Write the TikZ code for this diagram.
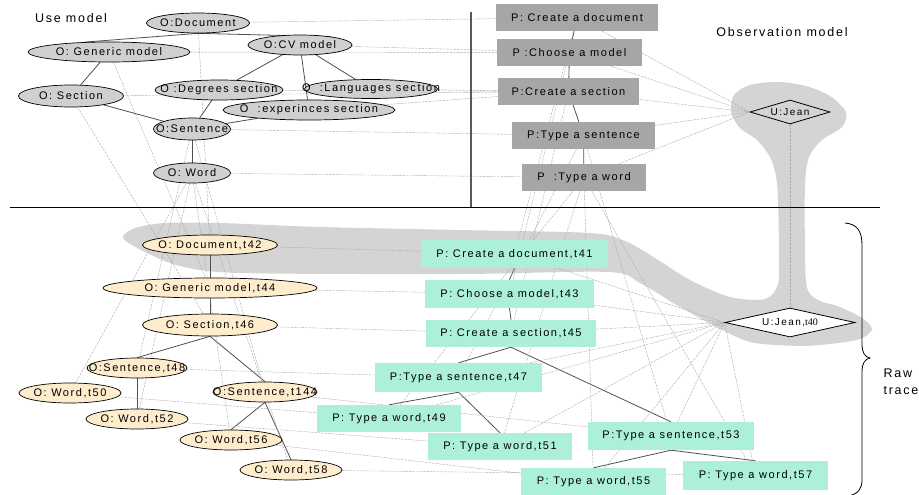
\documentclass[tikz,border=0pt]{standalone}
\usepackage{fontspec}
\setmainfont{Liberation Sans}
\newfontfamily\lblfont[LetterSpace=14]{Liberation Sans}
\newfontfamily\stampfont{Liberation Serif}
\usetikzlibrary{shapes.geometric}

\definecolor{omodel}{RGB}{208,208,208}
\definecolor{pmodel}{RGB}{166,166,166}
\definecolor{otrace}{RGB}{253,237,204}
\definecolor{ptrace}{RGB}{172,240,216}
\definecolor{blobgray}{RGB}{212,212,212}
\definecolor{edgegray}{RGB}{80,80,80}
\definecolor{faint}{RGB}{170,170,170}

% centred label that does not widen its node
\newcommand\zw[1]{\makebox[0pt]{#1}}

\pgfdeclarelayer{shade}
\pgfdeclarelayer{links}
\pgfsetlayers{shade,links,main}

\begin{document}
\begin{tikzpicture}[x=1pt,y=-1pt,
  lbl/.style={font=\lblfont\fontsize{11}{13}\selectfont, text=black},
  omod/.style={lbl, ellipse, draw=black, line width=0.7pt, fill=omodel,
               inner sep=0pt, minimum height=20pt},
  otr/.style={omod, fill=otrace},
  pmod/.style={lbl, rectangle, fill=pmodel, inner sep=0pt, minimum height=27pt},
  ptr/.style={pmod, fill=ptrace},
  user/.style={diamond, draw=black, line width=0.8pt, inner sep=0pt,
               font=\lblfont\fontsize{10}{12}\selectfont},
  tree/.style={draw=edgegray, line width=0.8pt},
  link/.style={draw=faint, line width=0.4pt, dash pattern=on 2.5pt off 1pt},
  title/.style={font=\lblfont\fontsize{12.5}{17}\selectfont}
]
\useasboundingbox (0,0) rectangle (919,495);

% ---------- headings ----------
\node[title] (usemodel) at (71,18) {Use model};
\node[title] (obsmodel) at (782,32) {Observation model};
\node[title, align=left, anchor=west] (rawtrace) at (880,382) {Raw\\trace};

% ---------- use model (classes) ----------
\node[omod, minimum width=103pt] (odoc)  at (198,23)  {\zw{O:Document}};
\node[omod, minimum width=162pt] (ogen)  at (109,52)  {\zw{O: Generic model}};
\node[omod, minimum width=104pt] (ocv)   at (300,45)  {\zw{O:CV model}};
\node[omod, minimum width=105pt, minimum height=22pt] (osec) at (71,96) {\zw{O: Section}};
\node[omod, minimum width=128pt] (odeg)  at (219,90)  {\zw{O :Degrees section}};
\node[omod, minimum width=133pt, minimum height=19pt] (olang) at (371,89) {\zw{O\ \ :Languages section}};
\node[omod, minimum width=172pt] (oexp)  at (309,110) {\zw{O\ \ :experinces section}};
\node[omod, minimum width=77pt, minimum height=22pt] (osent) at (192,129) {\zw{O:Sentence}};
\node[omod, minimum width=77pt]  (oword) at (192,173) {\zw{O: Word}};

\node[pmod, minimum width=162pt] (pcd) at (577,17.5)  {\zw{P: Create a document}};
\node[pmod, minimum width=145pt] (pcm) at (569.5,52.5) {\zw{P :Choose a model}};
\node[pmod, minimum width=141pt] (pcs) at (568.5,91.5) {\zw{P:Create a section}};
\node[pmod, minimum width=143pt] (pts) at (583.5,135.5) {\zw{P:Type a sentence}};
\node[pmod, minimum width=124pt] (ptw) at (584,177.5) {\zw{P\ \ :Type a word}};

\node[user, minimum width=80pt, minimum height=24pt] (uj) at (790,112) {\zw{U:Jean}};

% ---------- raw trace (instances) ----------
\node[otr, minimum width=135pt] (ot42)  at (210,245) {\zw{O: Document,t42}};
\node[otr, minimum width=214pt] (ot44)  at (210,288) {\zw{O: Generic model,t44}};
\node[otr, minimum width=135pt, minimum height=22pt] (ot46) at (210,325) {\zw{O: Section,t46}};
\node[otr, minimum width=100pt] (ot48)  at (137,368) {\zw{O:Sentence,t48}};
\node[otr, minimum width=102pt] (ot50)  at (70,393)  {\zw{O: Word,t50}};
\node[otr, minimum width=104pt] (ot144) at (265,392) {\zw{O:Sentence,t144}};
\node[otr, minimum width=102pt] (ot52)  at (137,419) {\zw{O: Word,t52}};
\node[otr, minimum width=102pt] (ot56)  at (231,440) {\zw{O: Word,t56}};
\node[otr, minimum width=102pt] (ot58)  at (291,470) {\zw{O: Word,t58}};

\node[ptr, minimum width=187pt, minimum height=28pt] (pt41) at (514.5,254) {\zw{P: Create a document,t41}};
\node[ptr, minimum width=169pt, minimum height=28pt] (pt43) at (509.5,294) {\zw{P: Choose a model,t43}};
\node[ptr, minimum width=170pt] (pt45) at (511,333.5) {\zw{P: Create a section,t45}};
\node[ptr, minimum width=167pt, minimum height=29pt] (pt47) at (458.5,377.5) {\zw{P:Type a sentence,t47}};
\node[ptr, minimum width=144pt] (pt49) at (389,418.5) {\zw{P: Type a word,t49}};
\node[ptr, minimum width=144pt] (pt51) at (500,446.5) {\zw{P: Type a word,t51}};
\node[ptr, minimum width=166pt, minimum height=28pt] (pt53) at (671,436) {\zw{P:Type a sentence,t53}};
\node[ptr, minimum width=145pt] (pt55) at (593.5,481.5) {\zw{P: Type a word,t55}};
\node[ptr, minimum width=145pt, minimum height=29pt] (pt57) at (755.5,475.5) {\zw{P: Type a word,t57}};

\node[user, fill=white, minimum width=130pt, minimum height=29pt] (ujb) at (790,322.5)
  {\zw{U:Jean,{\stampfont\fontsize{10}{11}\selectfont t40}}};

% ---------- frame lines ----------
\coordinate (vtop) at (471,12);
\coordinate (vbot) at (471,207);
\coordinate (hleft) at (10,207);
\coordinate (hright) at (880,207);
\draw[line width=1.6pt, draw=black!65] (vtop) -- (vbot);
\draw[line width=0.9pt] (hleft) -- (hright);

% brace grouping the raw trace
\draw[line width=0.8pt] (845,223) .. controls (857,224) and (862,231) .. (862,245)
  -- (862,344) .. controls (862,353) and (865,357) .. (870,358)
  .. controls (865,359) and (862,363) .. (862,372)
  -- (862,480) .. controls (862,489) and (858,494) .. (848,496);

% ---------- shaded user activity ----------
\begin{pgfonlayer}{shade}
\fill[blobgray] plot[smooth cycle, tension=0.5] coordinates {
  (123,238) (135,228) (165,223) (220,223) (320,227) (460,230) (590,233)
  (625,241) (655,258) (690,280) (730,297) (765,299) (778,284) (779,250)
  (778,200) (776,176) (770,157) (757,140) (740,128) (731,112) (734,95)
  (750,85) (778,82) (806,86) (830,96) (846,112) (842,127) (822,140)
  (809,157) (805,185) (805,250) (807,288) (818,300) (840,307) (862,318)
  (872,329) (860,339) (830,344) (800,346) (755,343) (728,333) (680,307)
  (640,283) (608,272) (460,274) (240,273) (180,266) (145,252)};
\end{pgfonlayer}

% ---------- links ----------
\begin{pgfonlayer}{links}
% composition in the use model
\draw[tree] (odoc.south) -- (ogen.158);
\draw[tree] (odoc.south) -- (ocv.15);
\draw[tree] (ogen) -- (osec);
\draw[tree] (ocv) -- (odeg);
\draw[tree] (ocv) -- (olang);
\draw[tree] (ocv) -- (oexp);
\draw[tree] (osec) -- (osent);
\draw[tree] (odeg) -- (osent);
\draw[tree] (oexp) -- (osent);
\draw[tree] (osent) -- (oword);
% composition in the observation model
\draw[tree] (pcd) -- (pcm);
\draw[tree] (pcm) -- (pcs);
\draw[tree] (pcs) -- (pts);
\draw[tree] (pts) -- (ptw);
% composition in the trace
\draw[tree] (ot42) -- (ot44);
\draw[tree] (ot44) -- (ot46);
\draw[tree] (ot46.south) -- (ot48.north);
\draw[tree] (ot46.south) -- (ot144.north);
\draw[tree] (ot48.south) -- (ot52.north);
\draw[tree] (ot144.south) -- (ot56.north);
\draw[tree] (ot144.south) -- (ot58.north);
\draw[tree] (pt41.south) -- (pt43.north);
\draw[tree] (pt43.south) -- (pt45.north);
\draw[tree] (pt45.south) -- (pt47.north);
\draw[tree] (pt45.south) -- (pt53.north);
\draw[tree] (pt47.south) -- (pt49.north);
\draw[tree] (pt47.south) -- (pt51.north);
\draw[tree] (pt53.south) -- (pt55.north);
\draw[tree] (pt53.south) -- (pt57.north);

% objects used by procedures (model)
\draw[link] (odoc) -- (pcd);
\draw[link] (ogen) -- (pcm);
\draw[link] (ocv) -- (pcm);
\draw[link] (osec) -- (pcs);
\draw[link] (odeg) -- (pcs);
\draw[link] (olang) -- (pcs);
\draw[link] (oexp) -- (pcs);
\draw[link] (osent) -- (pts);
\draw[link] (oword) -- (ptw);
\foreach \p in {pcd,pcm,pcs,pts,ptw} \draw[link] (\p) -- (uj.west);

% objects used by procedures (trace)
\draw[link] (ot42) -- (pt41);
\draw[link] (ot44) -- (pt43);
\draw[link] (ot46) -- (pt45);
\draw[link] (ot48) -- (pt47);
\draw[link] (ot144) -- (pt53);
\draw[link] (ot50) -- (pt49);
\draw[link] (ot52) -- (pt51);
\draw[link] (ot56) -- (pt55);
\draw[link] (ot58) -- (pt57);
\foreach \p in {pt41,pt43,pt45,pt47,pt49,pt51,pt53,pt55,pt57} \draw[link] (\p) -- (ujb.west);

% instances of model elements
\draw[link] (odoc) -- (ot42);
\draw[link] (ogen) -- (ot44);
\draw[link] (osec) -- (ot46);
\draw[link] (osent) -- (ot48);
\draw[link] (osent) -- (ot144);
\foreach \w in {ot50,ot52,ot56,ot58} \draw[link] (oword) -- (\w);
\draw[link] (pcd) -- (pt41);
\draw[link] (pcm) -- (pt43);
\draw[link] (pcs) -- (pt45);
\draw[link] (pts) -- (pt47);
\draw[link] (pts) -- (pt53);
\foreach \w in {pt49,pt51,pt55,pt57} \draw[link] (ptw) -- (\w);
\draw[link] (uj) -- (ujb);
\end{pgfonlayer}
\end{tikzpicture}
\end{document}
